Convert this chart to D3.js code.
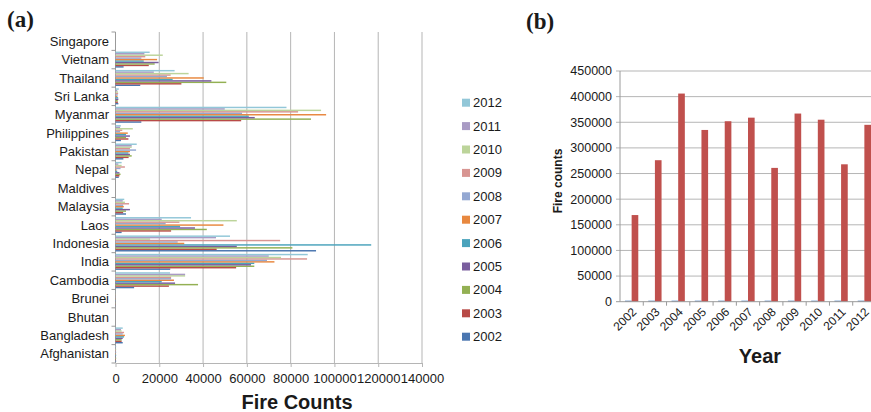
<!DOCTYPE html>
<html lang="en">
<head>
<meta charset="UTF-8">
<title>Fire counts by country and year</title>
<style>
  body { margin: 0; background: #fff; }
  svg text { font-family: "Liberation Sans", Arial, Helvetica, sans-serif; fill: #1a1a1a; }
</style>
</head>
<body>
<svg id="chart" width="871" height="412"></svg>
<script src="https://d3js.org/d3.v7.min.js"></script>
<script>
// countries, bottom to top as in the figure
var countries = ["Afghanistan", "Bangladesh", "Bhutan", "Brunei", "Cambodia", "India", "Indonesia", "Laos",
  "Malaysia", "Maldives", "Nepal", "Pakistan", "Philippines", "Myanmar", "Sri Lanka", "Thailand", "Vietnam", "Singapore"];
var years = ["2002", "2003", "2004", "2005", "2006", "2007", "2008", "2009", "2010", "2011", "2012"];
var yearColors = ["#4a76b0", "#b84a47", "#93b053", "#7a5e9e", "#4aa3bc", "#e8883f",
  "#94a8d2", "#d89592", "#bcd49a", "#a99bc4", "#92c7d8"];

// fire counts per country, 2002 ... 2012
var afghanistan = [300, 200, 300, 200, 300, 200, 300, 200, 300, 200, 300];
var bangladesh  = [3300, 2800, 2800, 3300, 3900, 4300, 3300, 3900, 2800, 2500, 3300];
var bhutan      = [0, 0, 0, 0, 0, 0, 0, 0, 0, 0, 0];
var brunei      = [100, 100, 100, 100, 100, 100, 100, 100, 100, 100, 100];
var cambodia    = [8500, 24400, 37700, 27200, 21100, 26700, 25400, 25400, 31800, 31800, 24900];
var india       = [25000, 55100, 63400, 61900, 63400, 72600, 69200, 87500, 75600, 70000, 87800];
var indonesia   = [91600, 46200, 80800, 55400, 116800, 31400, 28400, 75200, 15800, 45900, 52300];
var laos        = [2800, 25400, 41700, 36300, 29500, 49300, 22900, 29200, 55400, 21100, 34500];
var malaysia    = [4800, 3500, 4800, 6600, 3300, 3800, 3500, 6200, 4300, 3300, 4000];
var maldives    = [0, 0, 0, 0, 0, 0, 0, 0, 0, 0, 0];
var nepal       = [1500, 1800, 2300, 1800, 800, 500, 2300, 4300, 2800, 1300, 2800];
var pakistan    = [3600, 6000, 7400, 6600, 5900, 6600, 9400, 6600, 7400, 7400, 9700];
var philippines = [2500, 5900, 4800, 6600, 4800, 5600, 2100, 3100, 7900, 2100, 2400];
var myanmar     = [11800, 57400, 89300, 63600, 60900, 96200, 57800, 83400, 93900, 49900, 78100];
var sriLanka    = [1300, 1100, 1000, 1300, 1200, 900, 1000, 1200, 1100, 800, 1500];
var thailand    = [11300, 30100, 50600, 43800, 26100, 40300, 23500, 25200, 33400, 17500, 27000];
var vietnam     = [3700, 15200, 17900, 19700, 12900, 19000, 11800, 13600, 21600, 13200, 15600];
var singapore   = [0, 0, 0, 0, 0, 0, 0, 0, 0, 0, 0];

var countryValues = [afghanistan, bangladesh, bhutan, brunei, cambodia, india, indonesia, laos, malaysia,
  maldives, nepal, pakistan, philippines, myanmar, sriLanka, thailand, vietnam, singapore];
var xTicksA = [0, 20000, 40000, 60000, 80000, 100000, 120000, 140000];

// panel (b): yearly totals, the second series is the year itself
var yearSeries = [2002, 2003, 2004, 2005, 2006, 2007, 2008, 2009, 2010, 2011, 2012];
var fireTotals = [169000, 276000, 406000, 335000, 352000, 359000, 261000, 367000, 355000, 268000, 345000];
var yTicksB = [0, 50000, 100000, 150000, 200000, 250000, 300000, 350000, 400000, 450000];

var svg = d3.select("#chart");
var gridColor = "#b5b5b5";

// ---------------- panel (a) ----------------
var x = d3.scaleLinear().domain([0, 140000]).range([115.5, 422]);
var y = d3.scaleBand().domain(countries.slice().reverse()).range([32, 363]);
var yInner = d3.scaleBand().domain(years.slice().reverse()).range([0, y.bandwidth()]).paddingOuter(0.8);
var color = d3.scaleOrdinal().domain(years).range(yearColors);

var a = svg.append("g");

// vertical grid
a.selectAll(".grid").data(xTicksA.slice(1)).enter().append("line")
  .attr("x1", function(d) { return x(d); }).attr("x2", function(d) { return x(d); })
  .attr("y1", 32).attr("y2", 363)
  .style("stroke", gridColor).style("stroke-width", 1);

// bottom axis
var xAxis = a.append("g").attr("transform", "translate(0,363)")
  .call(d3.axisBottom(x).tickValues(xTicksA).tickSize(4).tickSizeOuter(0).tickPadding(7).tickFormat(d3.format("d")));
xAxis.select(".domain").style("stroke", gridColor);
xAxis.selectAll(".tick line").style("stroke", gridColor);
xAxis.selectAll("text").style("font-size", "13px").style("fill", "#1a1a1a");

// left axis with ticks on category borders
a.append("line").attr("x1", x(0)).attr("x2", x(0)).attr("y1", 32).attr("y2", 363)
  .style("stroke", "#9a9a9a").style("stroke-width", 1);
a.selectAll(".ctick").data(countries).enter().append("line")
  .attr("x1", x(0) - 4).attr("x2", x(0))
  .attr("y1", function(d) { return y(d); }).attr("y2", function(d) { return y(d); })
  .style("stroke", "#9a9a9a");
a.append("line").attr("x1", x(0) - 4).attr("x2", x(0)).attr("y1", 363).attr("y2", 363).style("stroke", "#9a9a9a");

a.selectAll(".clabel").data(countries).enter().append("text")
  .attr("x", 109)
  .attr("y", function(d) { return y(d) + y.bandwidth() / 2; })
  .attr("dy", "0.35em")
  .attr("text-anchor", "end")
  .style("font-size", "13px")
  .text(function(d) { return d; });

// bars
countries.forEach(function(c, i) {
  a.append("g").selectAll("rect").data(countryValues[i]).enter().append("rect")
    .attr("x", x(0))
    .attr("y", function(d, j) { return y(c) + yInner(years[j]); })
    .attr("width", function(d) { return x(d) - x(0); })
    .attr("height", yInner.bandwidth())
    .style("fill", function(d, j) { return color(years[j]); });
});

// legend
var legend = a.selectAll(".leg").data(years.slice().reverse()).enter().append("g")
  .attr("transform", function(d, i) { return "translate(462," + (102.7 + i * 23.4) + ")"; });
legend.append("rect").attr("x", 0).attr("y", -4).attr("width", 8).attr("height", 8)
  .style("fill", function(d) { return color(d); });
legend.append("text").attr("x", 11).attr("y", 0).attr("dy", "0.35em")
  .style("font-size", "13px").text(function(d) { return d; });

a.append("text").attr("x", 297).attr("y", 409).attr("text-anchor", "middle")
  .style("font-size", "20px").style("font-weight", "bold").text("Fire Counts");

a.append("text").attr("x", 7).attr("y", 27)
  .style("font-family", "'Liberation Serif', 'Times New Roman', serif")
  .style("font-size", "23px").style("font-weight", "bold").text("(a)");

// ---------------- panel (b) ----------------
var xb = d3.scaleBand().domain(years).range([620, 876]);
var xbInner = d3.scaleBand().domain(["year", "fire"]).range([0, xb.bandwidth()]).paddingOuter(0.75);
var yb = d3.scaleLinear().domain([0, 450000]).range([301.7, 71]);

var b = svg.append("g");

b.selectAll(".gridb").data(yTicksB.slice(1)).enter().append("line")
  .attr("x1", 616).attr("x2", 871)
  .attr("y1", function(d) { return yb(d); }).attr("y2", function(d) { return yb(d); })
  .style("stroke", gridColor).style("stroke-width", 1);

b.append("line").attr("x1", 620).attr("x2", 620).attr("y1", yb(450000)).attr("y2", yb(0))
  .style("stroke", "#9a9a9a");

b.selectAll(".ylab").data(yTicksB).enter().append("text")
  .attr("x", 612)
  .attr("y", function(d) { return yb(d); })
  .attr("dy", "0.35em")
  .attr("text-anchor", "end")
  .style("font-size", "12.5px")
  .text(function(d) { return d; });

// bars
b.append("g").selectAll("rect").data(yearSeries).enter().append("rect")
  .attr("x", function(d, i) { return xb(years[i]) + xbInner("year"); })
  .attr("y", function(d) { return yb(d); })
  .attr("width", xbInner.bandwidth())
  .attr("height", function(d) { return yb(0) - yb(d); })
  .style("fill", "#4f81bd");
b.append("g").selectAll("rect").data(fireTotals).enter().append("rect")
  .attr("x", function(d, i) { return xb(years[i]) + xbInner("fire"); })
  .attr("y", function(d) { return yb(d); })
  .attr("width", xbInner.bandwidth())
  .attr("height", function(d) { return yb(0) - yb(d); })
  .style("fill", "#c0504d");

// x axis
b.append("line").attr("x1", 616).attr("x2", 871).attr("y1", yb(0)).attr("y2", yb(0))
  .style("stroke", "#9a9a9a");
b.selectAll(".xtb").data(years).enter().append("line")
  .attr("x1", function(d) { return xb(d) + xb.bandwidth(); })
  .attr("x2", function(d) { return xb(d) + xb.bandwidth(); })
  .attr("y1", yb(0)).attr("y2", yb(0) + 4)
  .style("stroke", "#9a9a9a");
b.selectAll(".xlab").data(years).enter().append("text")
  .attr("transform", function(d) {
    return "translate(" + (xb(d) + xb.bandwidth() / 2 + 2.5) + "," + (yb(0) + 8) + ") rotate(-45)";
  })
  .attr("text-anchor", "end")
  .attr("dy", "0.35em")
  .style("font-size", "12px")
  .text(function(d) { return d; });

b.append("text").attr("x", 760).attr("y", 363).attr("text-anchor", "middle")
  .style("font-size", "20px").style("font-weight", "bold").text("Year");

b.append("text").attr("transform", "translate(562,181) rotate(-90)").attr("text-anchor", "middle")
  .style("font-size", "12px").style("font-weight", "bold").text("Fire counts");

b.append("text").attr("x", 526).attr("y", 29)
  .style("font-family", "'Liberation Serif', 'Times New Roman', serif")
  .style("font-size", "23px").style("font-weight", "bold").text("(b)");
</script>
</body>
</html>
